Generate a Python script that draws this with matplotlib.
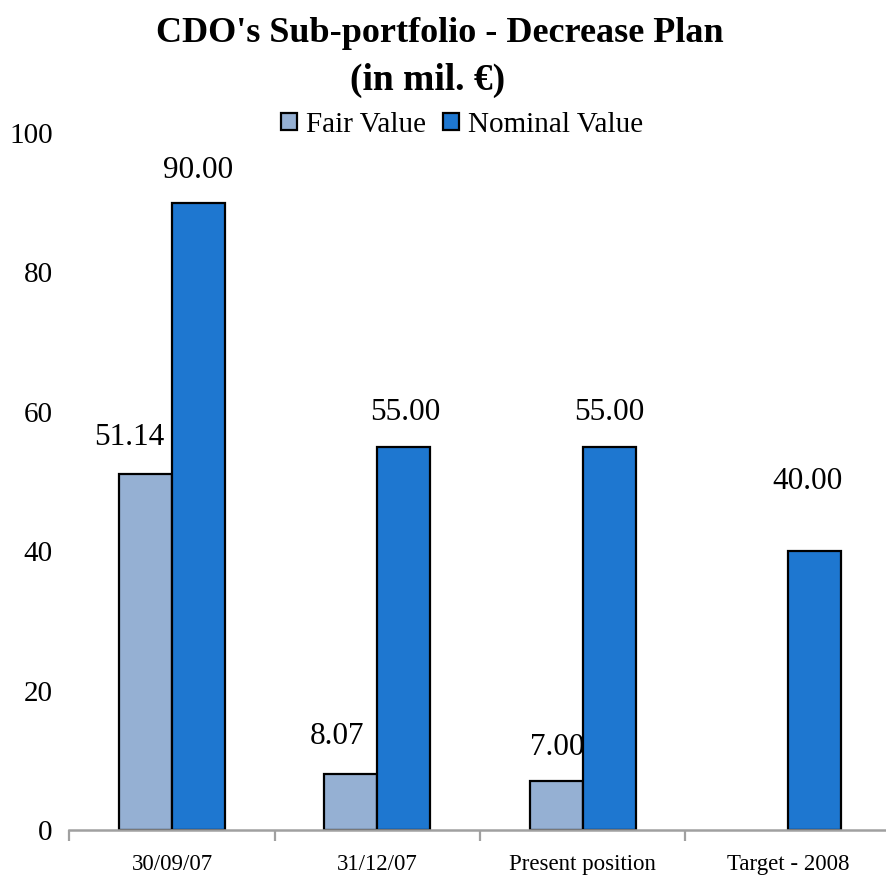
import matplotlib
matplotlib.use("Agg")
import matplotlib.pyplot as plt
import numpy as np

categories = ["30/09/07", "31/12/07", "Present position", "Target - 2008"]
fair_value = [51.14, 8.07, 7.00, None]
nominal_value = [90.00, 55.00, 55.00, 40.00]
y_ticks = [0, 20, 40, 60, 80, 100]

# label offsets in pixels (dx, dy above bar top) – layout only
fair_label_off = [(-16, 29), (-14, 30), (1, 26), (0, 0)]
nom_label_off = [(-1, 25), (1, 27), (0, 27), (-7, 62)]

FAIR_C = "#95B0D3"
NOM_C = "#1E77D0"
SERIF = ["Liberation Serif", "DejaVu Serif"]
plt.rcParams["font.family"] = SERIF

dpi = 100
fig = plt.figure(figsize=(8.86, 8.76), dpi=dpi)
ax = fig.add_axes([69.5 / 886, 46 / 876, 821.2 / 886, 697 / 876])

x = np.arange(len(categories))
w = 0.258
fv = [np.nan if v is None else v for v in fair_value]
b1 = ax.bar(x - w / 2, fv, w, color=FAIR_C, edgecolor="black", linewidth=1.6,
            label="Fair Value", zorder=3)
b2 = ax.bar(x + w / 2, nominal_value, w, color=NOM_C, edgecolor="black", linewidth=1.6,
            label="Nominal Value", zorder=3)

px = 72.0 / dpi
for i, v in enumerate(fair_value):
    if v is None:
        continue
    dx, dy = fair_label_off[i]
    ax.annotate(f"{v:.2f}", (x[i] - w / 2, v), xytext=(dx * px, dy * px),
                textcoords="offset points", ha="center", va="baseline",
                fontsize=22.5, color="black")
for i, v in enumerate(nominal_value):
    dx, dy = nom_label_off[i]
    ax.annotate(f"{v:.2f}", (x[i] + w / 2, v), xytext=(dx * px, dy * px),
                textcoords="offset points", ha="center", va="baseline",
                fontsize=22.5, color="black")

ax.set_xlim(-0.5, len(categories) - 0.5)
ax.set_ylim(0, 100)
ax.set_yticks(y_ticks)
ax.set_yticklabels([str(t) for t in y_ticks], fontsize=21)
ax.tick_params(axis="y", length=0, pad=12)

ax.set_xticks(x)
ax.set_xticklabels(categories, fontsize=16.5)
ax.set_xticks(np.arange(-0.5, len(categories), 1.0), minor=True)
ax.tick_params(axis="x", which="major", length=0, pad=17)
ax.tick_params(axis="x", which="minor", length=8, width=1.6, color="#A0A0A0", direction="out")

for s in ["top", "right", "left"]:
    ax.spines[s].set_visible(False)
ax.spines["bottom"].set_color("#A0A0A0")
ax.spines["bottom"].set_linewidth(1.8)
ax.spines["bottom"].set_zorder(4)

fig.text(440 / 886, 1 - 42 / 876, "CDO's Sub-portfolio - Decrease Plan",
         ha="center", va="baseline", fontsize=26, fontweight="bold")
fig.text(428 / 886, 1 - 90 / 876, "(in mil. €)",
         ha="center", va="baseline", fontsize=27, fontweight="bold")

leg = fig.legend(handles=[b1, b2], labels=["Fair Value", "Nominal Value"],
                 loc="center", bbox_to_anchor=(462 / 886, 1 - 125 / 876),
                 ncol=2, frameon=False, fontsize=21, handlelength=0.55,
                 handleheight=0.55, handletextpad=0.3, columnspacing=0.6,
                 borderpad=0, borderaxespad=0)

fig.savefig("out.png", dpi=dpi)
